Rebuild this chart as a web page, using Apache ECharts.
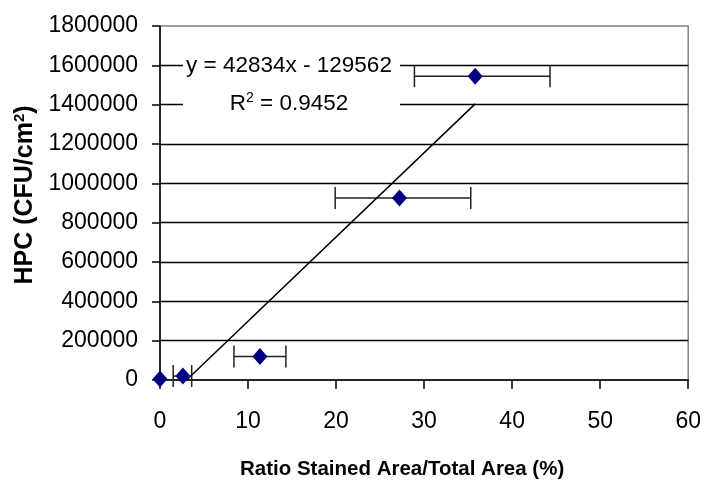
<!DOCTYPE html>
<html>
<head>
<meta charset="utf-8">
<script src="https://cdn.jsdelivr.net/npm/echarts@6/dist/echarts.min.js"></script>
<style>
  html, body { margin: 0; padding: 0; background: #fff; }
  #main { width: 704px; height: 485px; }
</style>
</head>
<body>
<div id="main"></div>
<script>
// data
var ratioX = [0, 2.6, 11.35, 27.2, 35.8];
var hpcY = [5000, 20000, 120000, 925000, 1545000];
var errLow = [null, 1.5, 8.4, 19.9, 28.9];
var errHigh = [null, 3.6, 14.3, 35.3, 44.3];
var slope = 42834;
var intercept = -129562;
var rSquared = '0.9452';

var font = 'Liberation Sans, Arial, sans-serif';

var points = [];
var bars = [];
for (var i = 0; i < ratioX.length; i++) {
    points.push([ratioX[i], hpcY[i]]);
    if (errLow[i] !== null) {
        bars.push([errLow[i], errHigh[i], hpcY[i]]);
    }
}

// trend line: from where it crosses zero to the largest x
var xStart = -intercept / slope;
var xEnd = Math.max.apply(null, ratioX);
var trend = [[xStart, slope * xStart + intercept], [xEnd, slope * xEnd + intercept]];

var myChart = echarts.init(document.getElementById('main'));
var option = {
    animation: false,
    grid: {
        left: 160,
        right: 13,
        top: 26,
        bottom: 104,
        show: true,
        borderColor: '#808080',
        borderWidth: 1.5
    },
    xAxis: {
        type: 'value',
        min: 0,
        max: 60,
        interval: 10,
        name: 'Ratio Stained Area/Total Area (%)',
        nameLocation: 'middle',
        nameGap: 79,
        nameTextStyle: {
            fontFamily: font, fontSize: 20.5, fontWeight: 'bold', color: '#000',
            padding: [0, 44, 0, 0]
        },
        axisLine: { onZero: false, lineStyle: { color: '#000', width: 1.5 } },
        axisTick: { show: true, length: 9, lineStyle: { color: '#000', width: 1.5 } },
        axisLabel: { margin: 30, fontFamily: font, fontSize: 23, color: '#000' },
        splitLine: { show: false }
    },
    yAxis: {
        type: 'value',
        min: 0,
        max: 1800000,
        interval: 200000,
        name: 'HPC (CFU/cm{s|2})',
        nameLocation: 'middle',
        nameRotate: 90,
        nameGap: 113,
        nameTextStyle: {
            fontFamily: font, fontSize: 25, fontWeight: 'bold', color: '#000',
            padding: [0, 0, 0, 16],
            rich: { s: { fontFamily: font, fontSize: 15, fontWeight: 'bold', color: '#000', verticalAlign: 'top' } }
        },
        axisLine: { show: true, lineStyle: { color: '#000', width: 1.5 } },
        axisTick: { show: true, length: 8, lineStyle: { color: '#000', width: 1.5 } },
        axisLabel: {
            margin: 22, fontFamily: font, fontSize: 23, color: '#000',
            formatter: function(v) { return String(v); }
        },
        splitLine: { show: true, showMinLine: false, showMaxLine: false, lineStyle: { color: '#000', width: 1.3 } }
    },
    graphic: [{
        type: 'rect',
        shape: { x: 183, y: 48, width: 217, height: 74 },
        style: { fill: '#fff' },
        z: 100
    }, {
        type: 'text',
        x: 289,
        y: 66,
        z: 101,
        style: {
            text: 'y = ' + slope + 'x - ' + Math.abs(intercept),
            font: '22.5px ' + font,
            fill: '#000',
            align: 'center',
            verticalAlign: 'middle'
        }
    }, {
        type: 'text',
        x: 289,
        y: 104,
        z: 101,
        style: {
            text: '{a|R}{s|2}{a| = ' + rSquared + '}',
            align: 'center',
            verticalAlign: 'middle',
            rich: {
                a: { fontFamily: font, fontSize: 22.5, fill: '#000', lineHeight: 26 },
                s: { fontFamily: font, fontSize: 14, fill: '#000', verticalAlign: 'top', lineHeight: 14 }
            }
        }
    }],
    series: [{
        type: 'custom',
        data: bars,
        z: 3,
        renderItem: function(params, api) {
            var lo = api.coord([api.value(0), api.value(2)]);
            var hi = api.coord([api.value(1), api.value(2)]);
            var h = 11;
            var st = { stroke: '#222', lineWidth: 1.5 };
            return {
                type: 'group',
                children: [
                    { type: 'line', shape: { x1: lo[0], y1: lo[1], x2: hi[0], y2: hi[1] }, style: st },
                    { type: 'line', shape: { x1: lo[0], y1: lo[1] - h, x2: lo[0], y2: lo[1] + h }, style: st },
                    { type: 'line', shape: { x1: hi[0], y1: hi[1] - h, x2: hi[0], y2: hi[1] + h }, style: st }
                ]
            };
        }
    }, {
        type: 'line',
        data: trend,
        symbol: 'none',
        z: 4,
        lineStyle: { color: '#000', width: 1.5 }
    }, {
        type: 'scatter',
        data: points,
        symbol: 'diamond',
        symbolSize: [15, 17],
        z: 5,
        itemStyle: { color: '#000080', opacity: 1 }
    }]
};
myChart.setOption(option);
</script>
</body>
</html>
